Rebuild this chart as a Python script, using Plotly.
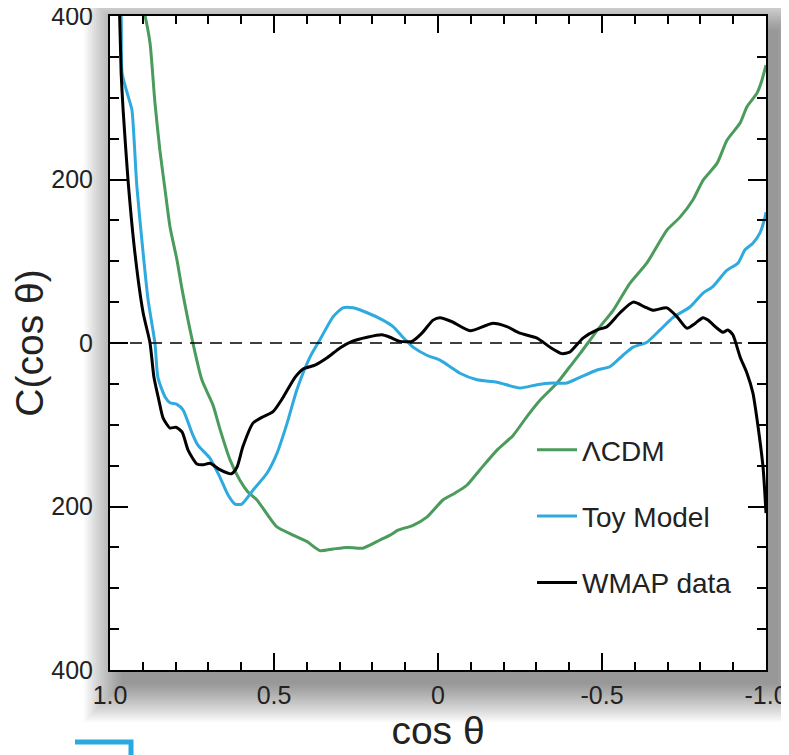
import plotly.graph_objects as go

# ---------------- data ----------------
lcdm_x = [0.905, 0.893, 0.878, 0.863, 0.848, 0.832, 0.817, 0.796, 0.780, 0.750, 0.720,
          0.686, 0.665, 0.634, 0.604, 0.580, 0.552, 0.520, 0.491, 0.442, 0.399, 0.360,
          0.320, 0.277, 0.229, 0.177, 0.146, 0.122, 0.076, 0.034, -0.015, -0.050, -0.088,
          -0.128, -0.180, -0.229, -0.271, -0.311, -0.363, -0.400, -0.433, -0.490, -0.534,
          -0.585, -0.637, -0.698, -0.738, -0.777, -0.808, -0.851, -0.881, -0.921, -0.942,
          -0.973, -0.988, -1.0]
lcdm_y = [420, 400, 367, 294, 236, 187, 142, 102, 65, 5, -45,
          -76, -105, -143, -168, -182, -192, -210, -225, -235, -243, -254,
          -252, -250, -251, -241, -235, -229, -223, -213, -192, -184, -174,
          -155, -131, -113, -90, -70, -49, -30, -13, 18, 40,
          73, 98, 138, 154, 175, 199, 220, 248, 269, 289,
          306, 322, 340]

toy_x = [0.972, 0.966, 0.963, 0.939, 0.933, 0.918, 0.899, 0.884, 0.863, 0.854, 0.832,
         0.817, 0.796, 0.777, 0.750, 0.732, 0.695, 0.665, 0.640, 0.619, 0.598, 0.564,
         0.521, 0.491, 0.460, 0.430, 0.390, 0.360, 0.320, 0.290, 0.259, 0.216, 0.168,
         0.137, 0.107, 0.076, 0.034, -0.006, -0.037, -0.067, -0.119, -0.180, -0.250,
         -0.302, -0.351, -0.393, -0.433, -0.485, -0.524, -0.564, -0.595, -0.637, -0.677,
         -0.716, -0.768, -0.808, -0.838, -0.881, -0.915, -0.936, -0.960, -0.982, -0.997, -1.0]
toy_y = [420, 400, 330, 294, 285, 191, 110, 53, 0, -42, -66,
         -73, -75, -82, -110, -125, -141, -164, -186, -197, -197, -180,
         -159, -135, -98, -57, -17, 4, 32, 43, 43, 37, 28,
         20, 7, -5, -15, -21, -29, -37, -45, -48, -55,
         -51, -49, -49, -42, -33, -29, -15, -5, 1, 16,
         31, 44, 61, 69, 89, 98, 114, 122, 135, 154, 160]

wmap_x = [0.972, 0.966, 0.960, 0.945, 0.924, 0.899, 0.878, 0.866, 0.851, 0.838, 0.817,
          0.799, 0.780, 0.762, 0.735, 0.716, 0.695, 0.665, 0.630, 0.613, 0.595, 0.564,
          0.537, 0.503, 0.473, 0.436, 0.412, 0.375, 0.338, 0.299, 0.262, 0.216, 0.171,
          0.146, 0.116, 0.079, 0.049, 0.015, -0.006, -0.043, -0.098, -0.165, -0.210,
          -0.250, -0.302, -0.341, -0.378, -0.402, -0.442, -0.485, -0.515, -0.555, -0.595,
          -0.631, -0.655, -0.698, -0.729, -0.759, -0.784, -0.808, -0.823, -0.851, -0.869,
          -0.884, -0.899, -0.921, -0.942, -0.960, -0.976, -0.991, -1.0]
wmap_y = [420, 330, 285, 199, 110, 37, 0, -42, -70, -92, -104,
          -103, -109, -131, -148, -149, -147, -155, -160, -152, -127, -98,
          -91, -84, -67, -42, -32, -27, -18, -6, 2, 7, 10,
          7, 2, 2, 12, 28, 31, 26, 15, 24, 20,
          12, 6, -5, -13, -11, 6, 16, 20, 37, 50,
          44, 40, 43, 32, 18, 24, 31, 28, 18, 13,
          16, 10, -17, -37, -61, -103, -152, -208]

series_names = ["\u039bCDM", "Toy Model", "WMAP data"]
series_colors = ["#4a9b5c", "#2eaadf", "#000000"]

x_tickvals = [1.0, 0.5, 0.0, -0.5, -1.0]
x_ticktext = ["1.0", "0.5", "0", "-0.5", "-1.0"]
y_tickvals = [400, 200, 0, -200, -400]
y_ticktext = ["400", "200", "0", "200", "400"]

# ---------------- layout geometry (pixels) ----------------
# the page body has an 8px margin, so the figure is drawn 8px in from the window edge
OFF = 8
W, H = 789 - OFF, 755 - OFF
L, R, T, B = 110 - OFF, 23, 16 - OFF, 85
PW, PH = W - L - R, H - T - B


def px(xp):  # window pixel -> paper x
    return (xp - OFF - L) / PW


def py(yp):  # window pixel -> paper y
    return (T + PH - (yp - OFF)) / PH


fig = go.Figure()
for xs, ys, name, col in [(lcdm_x, lcdm_y, series_names[0], series_colors[0]),
                          (toy_x, toy_y, series_names[1], series_colors[1]),
                          (wmap_x, wmap_y, series_names[2], series_colors[2])]:
    fig.add_trace(go.Scatter(x=xs, y=ys, mode="lines", name=name, legendgroup=name,
                             line=dict(color=col, width=3, shape="spline", smoothing=0.6)))

shapes = []
# soft drop shadow around plot area
dx, dy = 12, 14
x_left, x_right, y_top, y_bot = 110, 766, 16, 670
for i in range(20):
    s = 2 * i
    shapes.append(dict(type="rect", xref="paper", yref="paper", layer="below",
                       x0=px(x_left + dx - s), x1=px(x_right + dx + s),
                       y0=py(y_bot + dy + s), y1=py(y_top + dy - s),
                       fillcolor="rgba(0,0,0,0.022)", line=dict(width=0)))
shapes.append(dict(type="rect", xref="paper", yref="paper", layer="below",
                   x0=0, x1=1, y0=0, y1=1, fillcolor="white", line=dict(width=0)))
# zero line
shapes.append(dict(type="line", xref="paper", yref="y", x0=0, x1=1, y0=0, y1=0,
                   line=dict(color="black", width=1.5, dash="12px,8px")))
# blue bracket fragment at bottom-left
shapes.append(dict(type="path", xref="paper", yref="paper",
                   path=f"M{px(75)},{py(742)} L{px(131)},{py(742)} L{px(131)},{py(760)}",
                   line=dict(color="#29a9e0", width=5)))

axis_common = dict(showline=True, linecolor="black", linewidth=2, mirror="allticks",
                   ticks="inside", tickcolor="black", tickwidth=2, showgrid=False,
                   zeroline=False, tickfont=dict(family="Liberation Sans", size=25, color="#222"),
                   ticklabeloverflow="allow")

fig.update_layout(
    width=W, height=H,
    margin=dict(l=L, r=R, t=T, b=B, autoexpand=False),
    paper_bgcolor="white", plot_bgcolor="white",
    shapes=shapes,
    xaxis=dict(range=[1.0, -1.0], tickvals=x_tickvals, ticktext=x_ticktext, ticklen=17,
               ticklabelstandoff=2,
               minor=dict(dtick=0.1, ticks="inside", ticklen=8, tickwidth=2, tickcolor="black",
                          showgrid=False),
               title=dict(text="cos \u03b8", font=dict(family="Liberation Sans", size=39, color="#222"),
                          standoff=8),
               automargin=False, **axis_common),
    yaxis=dict(range=[-400, 400], tickvals=y_tickvals, ticktext=y_ticktext, ticklen=18,
               ticklabelstandoff=10,
               minor=dict(dtick=50, ticks="inside", ticklen=9, tickwidth=2, tickcolor="black",
                          showgrid=False),
               title=dict(text="C(cos \u03b8)", font=dict(family="Liberation Sans", size=39, color="#222"),
                          standoff=0),
               automargin=False, **axis_common),
    legend=dict(x=px(532), y=py(425), xanchor="left", yanchor="top",
                bgcolor="rgba(0,0,0,0)", borderwidth=0, itemwidth=40,
                tracegroupgap=27,
                font=dict(family="Liberation Sans", size=28, color="#222")),
    showlegend=True,
)

fig.write_html("out.html")
